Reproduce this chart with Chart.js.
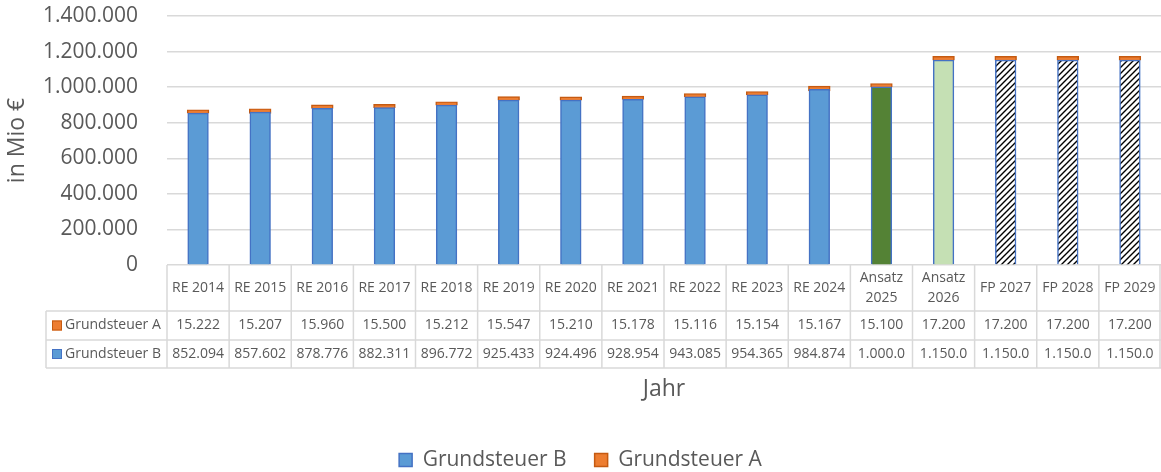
<!DOCTYPE html>
<html>
<head>
<meta charset="utf-8">
<script src="https://cdn.jsdelivr.net/npm/chart.js@4.4.1/dist/chart.umd.min.js"></script>
<style>
  html, body { margin: 0; padding: 0; background: #fff; }
  #wrap { width: 1161px; height: 472px; position: relative; }
</style>
</head>
<body>
<div id="wrap"><canvas id="chart"></canvas></div>
<script>
// Daten
const categories = ['RE 2014', 'RE 2015', 'RE 2016', 'RE 2017', 'RE 2018', 'RE 2019', 'RE 2020', 'RE 2021',
  'RE 2022', 'RE 2023', 'RE 2024', 'Ansatz 2025', 'Ansatz 2026', 'FP 2027', 'FP 2028', 'FP 2029'];
const grundsteuerA = [15222, 15207, 15960, 15500, 15212, 15547, 15210, 15178, 15116, 15154, 15167,
  15100, 17200, 17200, 17200, 17200];
const grundsteuerB = [852094, 857602, 878776, 882311, 896772, 925433, 924496, 928954, 943085, 954365, 984874,
  1000000, 1150000, 1150000, 1150000, 1150000];
const yMax = 1400000;
const yStep = 200000;

const FONT = "'Open Sans', sans-serif";
const TEXT = '#595959';
const GRID = '#D9D9D9';

function fmt(n) {
  return String(n).replace(/\B(?=(\d{3})+(?!\d))/g, '.');
}

// Schraffur fuer Finanzplanung
function hatch() {
  const c = document.createElement('canvas');
  c.width = 6; c.height = 6;
  const g = c.getContext('2d');
  g.fillStyle = '#fff';
  g.fillRect(0, 0, 6, 6);
  g.strokeStyle = '#000';
  g.lineWidth = 1.4;
  g.beginPath();
  g.moveTo(-1, 7); g.lineTo(7, -1);
  g.moveTo(-4, 4); g.lineTo(4, -4);
  g.moveTo(2, 10); g.lineTo(10, 2);
  g.stroke();
  return g.createPattern(c, 'repeat');
}
const hatchFill = hatch();
const fillB = categories.map((c, i) => i < 11 ? '#5B9BD5' : i === 11 ? '#548235' : i === 12 ? '#C5E0B4' : hatchFill);

// Datentabelle unter der Achse
const tablePlugin = {
  id: 'dataTable',
  afterDraw(chart) {
    const ctx = chart.ctx;
    const area = chart.chartArea;
    const n = categories.length;
    const w = (area.right - area.left) / n;
    const top = area.bottom;
    const hdr = top + 46, rA = hdr + 29, rB = rA + 28;
    const keyLeft = 46;
    ctx.save();
    ctx.strokeStyle = GRID;
    ctx.lineWidth = 1.5;
    ctx.beginPath();
    for (let i = 0; i <= n; i++) {
      const x = Math.min(area.left + i * w, area.right - 1);
      ctx.moveTo(x, top); ctx.lineTo(x, rB);
    }
    ctx.moveTo(keyLeft, hdr); ctx.lineTo(keyLeft, rB);
    [hdr, rA, rB].forEach(y => { ctx.moveTo(keyLeft, y); ctx.lineTo(area.right, y); });
    ctx.stroke();

    ctx.fillStyle = TEXT;
    ctx.font = '14px ' + FONT;
    ctx.textAlign = 'center';
    ctx.textBaseline = 'middle';
    categories.forEach((lab, i) => {
      const cx = chart.scales.x.getPixelForValue(i);
      if (ctx.measureText(lab).width > w - 6) {
        const parts = lab.split(' ');
        ctx.fillText(parts[0], cx, top + 13);
        ctx.fillText(parts.slice(1).join(' '), cx, top + 33);
      } else {
        ctx.fillText(lab, cx, top + 23);
      }
    });

    const rows = [
      { label: 'Grundsteuer A', values: grundsteuerA, fill: '#ED7D31', stroke: '#C55A11', y: (hdr + rA) / 2 },
      { label: 'Grundsteuer B', values: grundsteuerB, fill: '#5B9BD5', stroke: '#4472C4', y: (rA + rB) / 2 }
    ];
    rows.forEach(r => {
      ctx.fillStyle = r.fill;
      ctx.fillRect(52, r.y - 5, 10, 10);
      ctx.strokeStyle = r.stroke;
      ctx.lineWidth = 1;
      ctx.strokeRect(52.5, r.y - 4.5, 9, 9);
      ctx.fillStyle = TEXT;
      ctx.textAlign = 'left';
      ctx.fillText(r.label, 65, r.y);
      ctx.textAlign = 'center';
      r.values.forEach((v, i) => {
        let s = fmt(v);
        while (ctx.measureText(s).width > w - 10) s = s.slice(0, -1);
        ctx.fillText(s, chart.scales.x.getPixelForValue(i), r.y);
      });
    });
    ctx.restore();
  }
};

new Chart(document.getElementById('chart'), {
  type: 'bar',
  data: {
    labels: categories,
    datasets: [
      {
        label: 'Grundsteuer B',
        data: grundsteuerB,
        backgroundColor: c => c.dataIndex === undefined ? '#5B9BD5' : fillB[c.dataIndex],
        borderColor: '#4472C4',
        borderWidth: 1.5,
        inflateAmount: 0.75
      },
      {
        label: 'Grundsteuer A',
        data: grundsteuerA,
        backgroundColor: '#ED7D31',
        borderColor: '#C55A11',
        borderWidth: 1.5,
        inflateAmount: 1.3
      }
    ]
  },
  options: {
    responsive: true,
    maintainAspectRatio: false,
    animation: false,
    datasets: { bar: { categoryPercentage: 1, barPercentage: 0.319 } },
    layout: { padding: { top: 16, right: 0, left: 0, bottom: -8.5 } },
    plugins: {
      tooltip: { enabled: false },
      legend: {
        position: 'bottom',
        labels: {
          color: TEXT,
          font: { family: FONT, size: 21 },
          boxWidth: 13,
          boxHeight: 13,
          padding: 28
        }
      }
    },
    scales: {
      x: {
        stacked: true,
        grid: { display: false },
        border: { display: false },
        ticks: { display: false },
        title: {
          display: true,
          text: 'Jahr',
          color: TEXT,
          font: { family: FONT, size: 23 },
          padding: { top: 0, bottom: 18 }
        },
        afterFit(scale) { scale.height = 156.5; }
      },
      y: {
        stacked: true,
        min: 0,
        max: yMax,
        border: { display: false },
        grid: { color: GRID, lineWidth: 1.5, tickLength: 29, tickColor: 'transparent' },
        ticks: {
          stepSize: yStep,
          padding: 0,
          color: TEXT,
          font: { family: FONT, size: 21 },
          callback: v => fmt(v)
        },
        title: {
          display: true,
          text: 'in Mio €',
          color: TEXT,
          font: { family: FONT, size: 23 },
          padding: { top: 4, bottom: 0 }
        },
        afterFit(scale) { scale.width = 167; }
      }
    }
  },
  plugins: [tablePlugin]
});
</script>
</body>
</html>
